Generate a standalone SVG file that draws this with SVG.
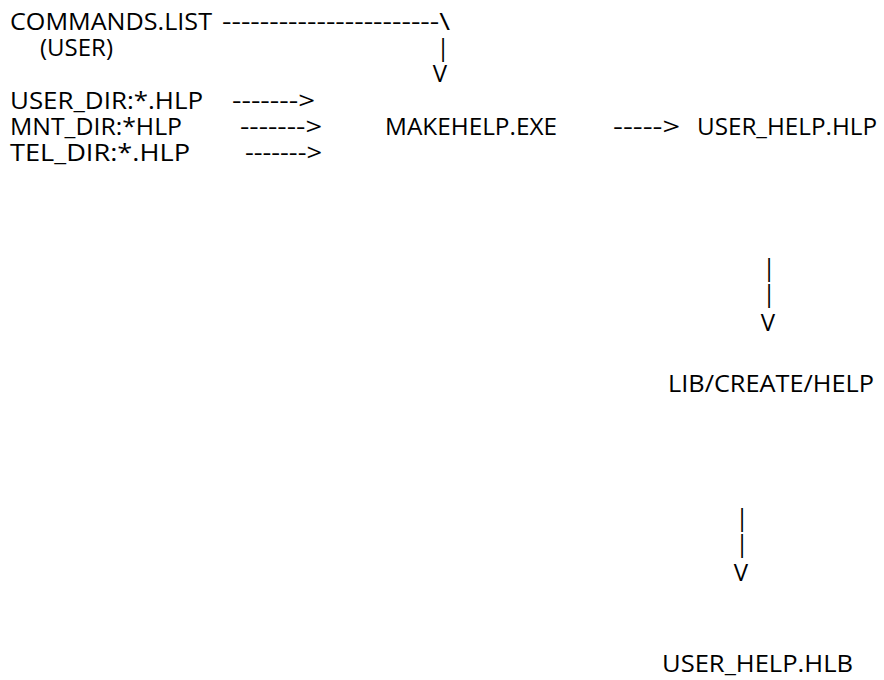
<svg xmlns="http://www.w3.org/2000/svg" width="884" height="680" viewBox="0 0 884 680">
<style>
text{font-family:"Open Sans","Noto Sans","Liberation Sans",sans-serif;font-size:24px;fill:#000}
.c{text-anchor:middle}
</style>
<rect width="884" height="680" fill="#fff"/>
<g id="connectors">
<text x="222" y="30" textLength="228" lengthAdjust="spacingAndGlyphs">-----------------------\</text>
<text class="c" x="443" y="56">|</text>
<text class="c" x="440" y="82">V</text>
<text x="232" y="109" textLength="83" lengthAdjust="spacingAndGlyphs">-------&gt;</text>
<text x="240" y="135" textLength="82" lengthAdjust="spacingAndGlyphs">-------&gt;</text>
<text x="245" y="161" textLength="77" lengthAdjust="spacingAndGlyphs">-------&gt;</text>
<text x="613" y="135" textLength="67" lengthAdjust="spacingAndGlyphs">-----&gt;</text>
<text class="c" x="769" y="276">|</text>
<text class="c" x="769" y="302">|</text>
<text class="c" x="768" y="331">V</text>
<text class="c" x="742" y="526">|</text>
<text class="c" x="742" y="552">|</text>
<text class="c" x="741" y="581">V</text>
</g>
<g id="commands-list">
<text x="10" y="30" textLength="202" lengthAdjust="spacingAndGlyphs">COMMANDS.LIST</text>
<text x="40" y="56" textLength="73" lengthAdjust="spacingAndGlyphs">(USER)</text>
</g>
<g id="user-dir"><text x="10" y="109" textLength="193" lengthAdjust="spacingAndGlyphs">USER_DIR:*.HLP</text></g>
<g id="mnt-dir"><text x="10" y="135" textLength="172" lengthAdjust="spacingAndGlyphs">MNT_DIR:*HLP</text></g>
<g id="tel-dir"><text x="10" y="161" textLength="180" lengthAdjust="spacingAndGlyphs">TEL_DIR:*.HLP</text></g>
<g id="makehelp"><text x="385" y="135" textLength="172" lengthAdjust="spacingAndGlyphs">MAKEHELP.EXE</text></g>
<g id="user-help-hlp"><text x="697" y="135" textLength="180" lengthAdjust="spacingAndGlyphs">USER_HELP.HLP</text></g>
<g id="lib-create-help"><text x="668" y="392" textLength="206" lengthAdjust="spacingAndGlyphs">LIB/CREATE/HELP</text></g>
<g id="user-help-hlb"><text x="662" y="672" textLength="191" lengthAdjust="spacingAndGlyphs">USER_HELP.HLB</text></g>
</svg>
